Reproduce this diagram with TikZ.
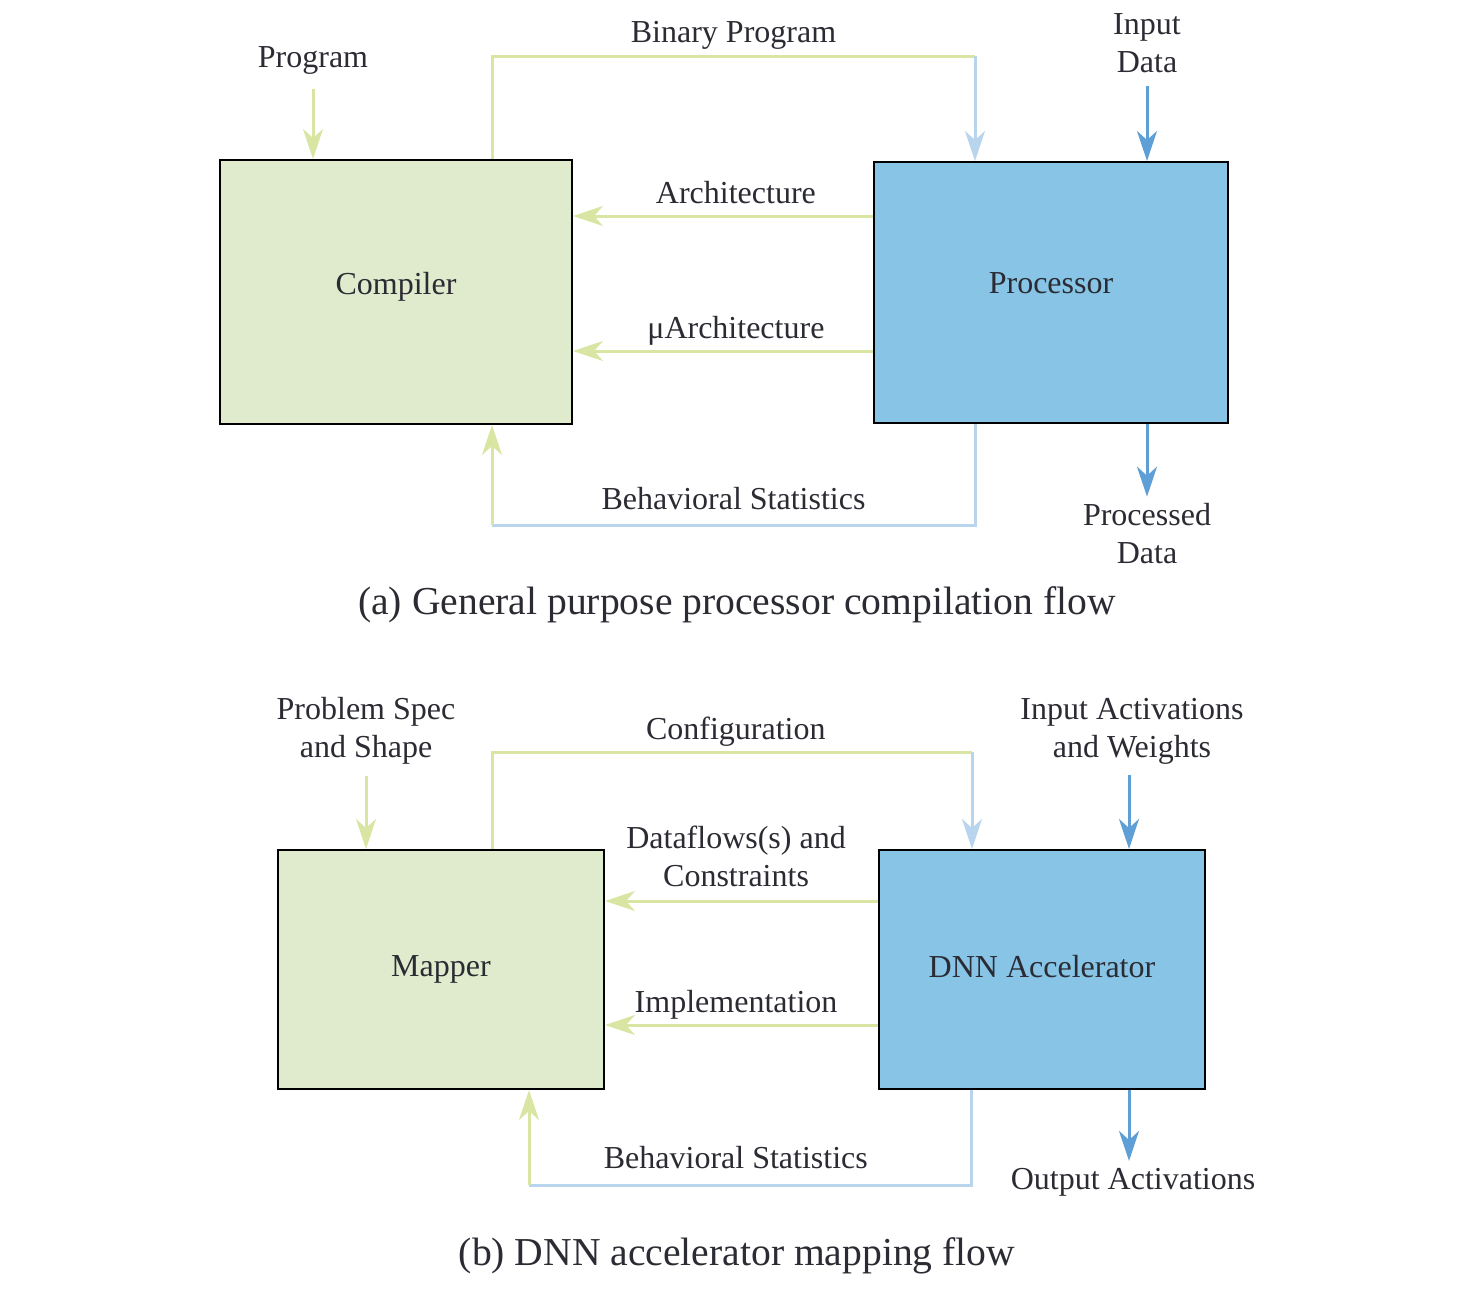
\documentclass[tikz,border=0pt]{standalone}
\usepackage{fontspec}
\setmainfont{Liberation Serif}
\usetikzlibrary{arrows.meta}

\definecolor{boxgreen}{HTML}{E0EACC}
\definecolor{boxblue}{HTML}{87C4E6}
\definecolor{linegreen}{HTML}{D9E6A3}
\definecolor{lineblue}{HTML}{B9D5EE}
\definecolor{darkblue}{HTML}{5E9FD6}
\definecolor{txt}{HTML}{2B2B33}

\tikzset{
	box/.style={draw=black, line width=1pt, inner sep=0pt},
	gline/.style={draw=linegreen, line width=1.5pt},
	bline/.style={draw=lineblue, line width=1.5pt},
	dline/.style={draw=darkblue, line width=1.5pt},
	tip/.style={-{Stealth[length=15pt,width=10pt,inset=4.5pt]}},
	lbl/.style={text=txt, align=center, font=\fontsize{16}{19}\selectfont},
	onarrow/.style={lbl, anchor=base, yshift=6.5pt},
	captext/.style={text=txt, font=\fontsize{19.8}{23}\selectfont}
}

\begin{document}
\begin{tikzpicture}[x=0.5pt,y=-0.5pt]
		\useasboundingbox (0,0) rectangle (1482,1291);

		% (a)
		\node[box, fill=boxgreen, minimum width=176pt, minimum height=132pt, lbl, text depth=9pt] (comp) at (396,292) {Compiler};
		\node[box, fill=boxblue, minimum width=177pt, minimum height=130.5pt, lbl, text depth=9pt] (proc) at (1051,292.5) {Processor};

		\node[lbl] (prog) at (313,60) {Program};
		\node[lbl] (indata) at (1147,43) {Input\\Data};
		\node[lbl] (outdata) at (1147,534) {Processed\\Data};
		\coordinate (bin1) at (492,56);
		\coordinate (bin2) at (975,56);
		\coordinate (beh1) at (975,525);
		\coordinate (beh2) at (492,525);

		\draw[gline, tip, shorten <=4pt] (prog) -- (comp.north -| prog);
		\draw[dline, tip, shorten <=3pt] (indata) -- (proc.north -| indata);
		\draw[dline, tip] (proc.south -| outdata) -- (outdata);

		\draw[gline] (comp.north -| bin1) -- (bin1) -- node[midway, onarrow, yshift=0.5pt] {Binary Program} (bin2);
		\draw[bline, tip] (bin2) -- (proc.north -| bin2);

		\draw[gline, tip] (proc.west |- 0,216) -- node[pos=.457, onarrow] {Architecture} (comp.east |- 0,216);
		\draw[gline, tip] (proc.west |- 0,351) -- node[pos=.457, onarrow] {μArchitecture} (comp.east |- 0,351);

		\draw[bline] (proc.south -| beh1) -- (beh1) -- node[midway, onarrow, yshift=1.5pt] {Behavioral Statistics} (beh2);
		\draw[gline, tip] (beh2) -- (comp.south -| beh2);

		\node[captext] (capa) at (737,605) {(a) General purpose processor compilation flow};

		% (b)
		\node[box, fill=boxgreen, minimum width=163pt, minimum height=119.5pt, lbl, text depth=3.5pt] (map) at (441,969.5) {Mapper};
		\node[box, fill=boxblue, minimum width=163pt, minimum height=119.5pt, lbl, text depth=3.5pt] (acc) at (1042,969.5) {DNN Accelerator};

		\node[lbl] (spec) at (366,731) {Problem Spec\\and Shape};
		\node[lbl] (inact) at (1132,731) {Input Activations\\and Weights};
		\node[lbl] (outact) at (1133,1182) {Output Activations};
		\coordinate (cfg1) at (492,752);
		\coordinate (cfg2) at (972,752);
		\coordinate (stat1) at (971,1185);
		\coordinate (stat2) at (529,1185);

		\draw[gline, tip, shorten <=2pt] (spec) -- (map.north -| spec);
		\draw[dline, tip, shorten <=2pt] (inact.south -| 1129,0) -- (acc.north -| 1129,0);
		\draw[dline, tip] (acc.south -| 1129,0) -- (outact.north -| 1129,0);

		\draw[gline] (map.north -| cfg1) -- (cfg1) -- node[pos=.508, onarrow] {Configuration} (cfg2);
		\draw[bline, tip] (cfg2) -- (acc.north -| cfg2);

		\draw[gline, tip] (acc.west |- 0,901) -- node[pos=.52, lbl, above=3.2pt] {Dataflows(s) and\\Constraints} (map.east |- 0,901);
		\draw[gline, tip] (acc.west |- 0,1025) -- node[pos=.52, onarrow] {Implementation} (map.east |- 0,1025);

		\draw[bline] (acc.south -| stat1) -- (stat1) -- node[pos=.532, onarrow, yshift=2pt] {Behavioral Statistics} (stat2);
		\draw[gline, tip] (stat2) -- (map.south -| stat2);

		\node[captext] (capb) at (737,1256) {(b) DNN accelerator mapping flow};
	\end{tikzpicture}
\end{document}
